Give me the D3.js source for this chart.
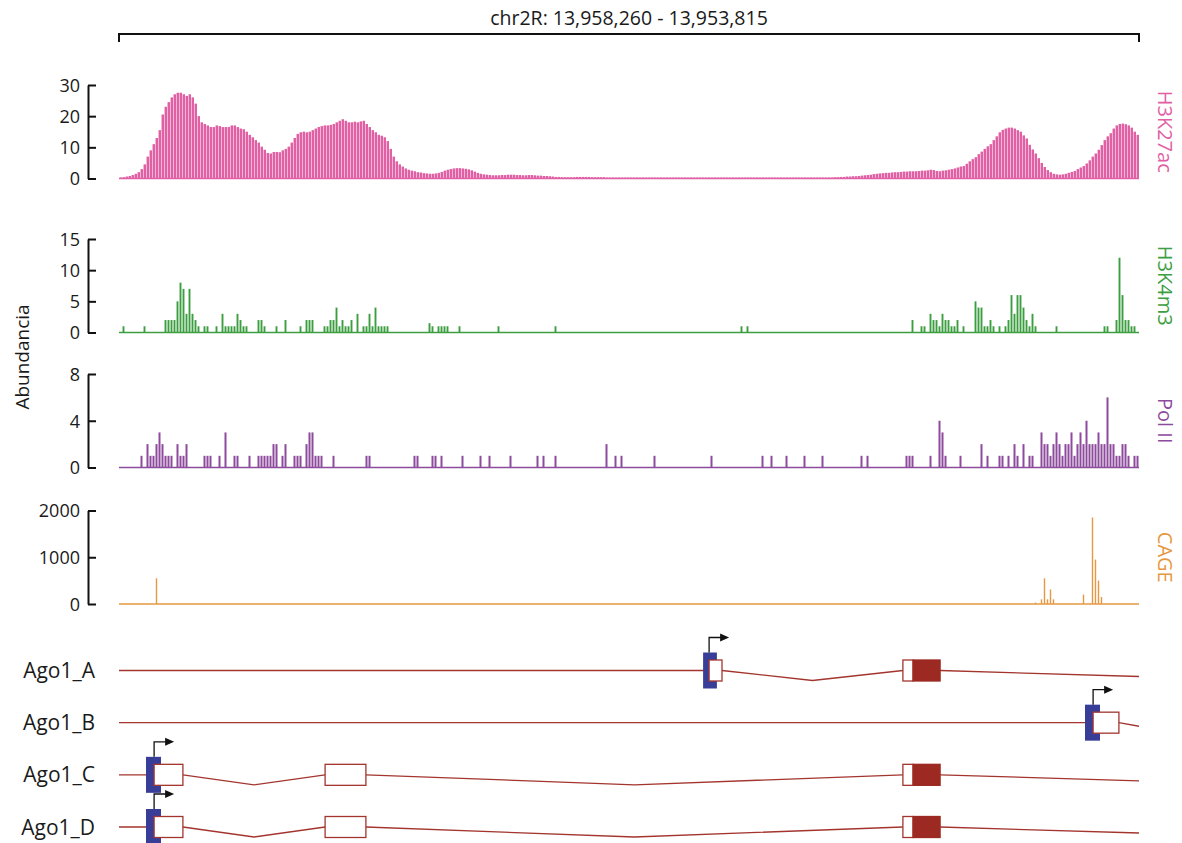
<!DOCTYPE html>
<html lang="es">
<head>
<meta charset="UTF-8">
<title>Ago1 locus</title>
<script src="https://d3js.org/d3.v7.min.js"></script>
<style>
  body { margin: 0; background: #fff; }
  svg { display: block; font-family: 'Open Sans', sans-serif; }
  .axis path, .axis line { stroke: #111; stroke-width: 2px; }
  .axis text { font-size: 18px; fill: #1a1a1a; font-family: 'Open Sans', sans-serif; }
</style>
</head>
<body>
<svg id="chart" width="1182" height="843"></svg>
<script>
// region shown, split in equal bins (left = 13,958,260)
const region = "chr2R: 13,958,260 - 13,953,815";
const nBins = 340;

// H3K27ac, one value per bin
const h3k27ac = [
  0.3,0.4,0.6,0.8,1.1,1.5,2,3,4.5,7,9,11,13,15.5,20.5,23,24.5,26,27,27.5,
  27.5,27,26.5,27,26,24,20,18,17.5,17,16.5,16.5,17,16.8,16.5,16.5,16.5,17,17,16.5,
  16,15.8,15,14,13.2,12.3,11.5,10.2,9.2,8.2,8,8.5,8.5,8.4,9,9.5,10.2,11.5,13,14.3,
  14.8,15,14.8,15,15.5,16,16.5,16.8,17,17,17.2,17.5,18,18.5,19,18.5,18,18,18.2,18,
  18.3,18.5,17.5,16.5,15.5,14.8,14,13.7,13.2,12,9.5,7,5.5,4.5,3.8,3.2,2.8,2.5,2.3,2,
  1.9,1.7,1.6,1.5,1.5,1.6,1.8,2.1,2.5,2.8,3,3.2,3.3,3.3,3.2,3.1,2.9,2.6,2.2,1.8,
  1.5,1.3,1.2,1.1,1,1,1,1.1,1.1,1.2,1.2,1.2,1.1,1.1,1,1,1.1,1.1,1,0.9,
  0.9,0.8,0.8,0.7,0.6,0.5,0.5,0.4,0.4,0.4,0.4,0.4,0.5,0.5,0.5,0.5,0.5,0.4,0.4,0.4,
  0.4,0.4,0.3,0.3,0.3,0.3,0.3,0.3,0.3,0.3,0.3,0.3,0.3,0.3,0.3,0.3,0.3,0.3,0.3,0.3,
  0.3,0.3,0.3,0.3,0.3,0.3,0.3,0.3,0.3,0.3,0.3,0.3,0.3,0.3,0.3,0.3,0.3,0.3,0.3,0.3,
  0.3,0.3,0.3,0.3,0.3,0.3,0.3,0.3,0.3,0.3,0.3,0.3,0.3,0.3,0.3,0.3,0.3,0.3,0.3,0.3,
  0.3,0.3,0.3,0.3,0.3,0.3,0.3,0.3,0.3,0.3,0.3,0.3,0.3,0.3,0.3,0.3,0.3,0.3,0.4,0.4,
  0.5,0.5,0.6,0.6,0.7,0.7,0.8,0.9,1,1.1,1.2,1.4,1.5,1.6,1.7,1.8,1.8,1.9,2,2,
  2.1,2.2,2.2,2.3,2.3,2.3,2.4,2.5,2.5,2.6,2.8,2.7,2.4,2.3,2.5,2.6,2.8,3,3.2,3.5,
  3.8,4,4.7,5.5,6.2,6.8,7.8,8.6,9.5,10.3,11,12.3,13.5,14.8,15.6,16,16.3,16.3,16,15.5,
  15,13.8,12.8,10.8,9.3,8,6.5,5,3.7,2.7,2,1.5,1.3,1.2,1.3,1.5,1.8,2.1,2.4,3,
  3.5,4,4.8,5.8,7,8,9.2,10.7,12.3,13.5,14.5,16,17,17.5,17.6,17.4,17,16.3,15,14
];

// sparse tracks: [bin, value]
const h3k4m3 = [
  [1,1],[8,1],[15,2],[16,2],[17,2],[18,2],[19,5],[20,8],[21,7],[22,3],[23,7],[24,3],[25,2],[26,1],
  [28,1],[29,1],[32,1],[34,3],[35,1],[36,1],[37,1],[38,1],[39,3],[40,2],[41,1],[42,1],[46,2],[47,2],
  [48,1],[52,1],[55,2],[60,1],[62,2],[63,2],[64,2],[68,1],[69,1],[70,2],[71,2],[72,4],[73,1],[74,2],
  [75,1],[76,1],[77,2],[79,3],[81,1],[82,1],[83,3],[84,1],[85,4],[86,1],[87,1],[88,1],[89,1],
  [103,1.5],[104,1],[106,1],[107,1],[108,1],[109,1],[113,1],[126,1],[145,1],[207,1],[209,1],
  [264,2],[267,1],[268,1],[270,3],[271,2],[272,2],[273,1],[274,3],[275,2],[276,2],[277,1],[278,1],
  [279,2],[281,1],[285,5],[286,4],[287,4],[288,1],[289,1],[290,2],[291,1],[293,1],[295,1],[296,2],
  [297,6],[298,3],[299,6],[300,6],[301,4],[302,2],[303,1],[304,3],[305,1],[312,1],[328,1],[329,1],
  [332,2],[333,12],[334,6],[335,2],[336,2],[337,1],[338,1]
];
const pol2 = [
  [7,1],[9,2],[10,1],[11,1],[12,2],[13,3],[14,2],[15,1],[16,1],[17,1],[19,2],[20,1],[21,1],[22,2],
  [28,1],[29,1],[30,1],[33,1],[35,3],[38,1],[39,1],[43,1],[46,1],[47,1],[48,1],[49,1],[50,1],[51,2],
  [52,2],[54,1],[55,2],[58,1],[59,1],[60,1],[62,2],[63,3],[64,3],[65,1],[66,1],[67,1],[71,1],[82,1],
  [83,1],[98,1],[99,1],[104,1],[105,1],[107,1],[114,1],[120,1],[123,1],[130,1],[139,1],[141,1],[145,1],
  [162,2],[165,1],[167,1],[178,1],[197,1],[214,1],[217,1],[222,1],[228,1],[234,1],[247,1],[249,1],
  [262,1],[263,1],[264,1],[270,1],[273,4],[274,3],[275,1],[280,1],[287,2],[289,1],[293,1],[294,1],
  [296,1],[298,2],[299,1],[301,2],[303,1],[304,1],[307,3],[308,2],[309,2],[310,1],[311,2],[312,3],
  [313,2],[314,1],[315,2],[316,2],[317,3],[318,1],[319,2],[320,3],[321,2],[322,4],[323,2],[324,2],
  [325,2],[326,3],[327,2],[328,2],[329,6],[330,2],[331,2],[332,1],[333,1],[334,2],[335,2],[336,1],
  [338,1],[339,1]
];
const cage = [
  [12,550],[305,30],[307,100],[308,550],[309,100],[310,310],[311,100],[321,200],[324,1850],
  [325,950],[326,500],[327,150]
];

// gene models, in bin units
const transcripts = ["Ago1_A", "Ago1_B", "Ago1_C", "Ago1_D"];
const tssBoxes = [[194.7, 199.3], [322, 327], [9, 14], [9, 14]];
const upstream = [[0, 196.7], [0, 324.7], [0, 11.7], [0, 11.7]];
const exons = [
  [[196.7, 201, "utr"], [261.3, 264.7, "utr"], [264.7, 273.7, "cds"]],
  [[324.7, 333.3, "utr"]],
  [[11.7, 21.3, "utr"], [68.7, 82.3, "utr"], [261.3, 264.7, "utr"], [264.7, 273.7, "cds"]],
  [[11.7, 21.3, "utr"], [68.7, 82.3, "utr"], [261.3, 264.7, "utr"], [264.7, 273.7, "cds"]]
];
const introns = [
  [[201, 261.3], [273.7, 494]],
  [[333.3, 371]],
  [[21.3, 68.7], [82.3, 261.3], [273.7, 494]],
  [[21.3, 68.7], [82.3, 261.3], [273.7, 494]]
];

const tracks = [
  {name: "H3K27ac", data: h3k27ac, max: 30, ticks: [0, 10, 20, 30], color: "#df60a4", light: "#f5c0da", top: 85, bottom: 178.5, dense: true},
  {name: "H3K4m3", data: h3k4m3, max: 15, ticks: [0, 5, 10, 15], color: "#3d9e41", top: 239, bottom: 332.5, barW: 1.9},
  {name: "Pol II", data: pol2, max: 8, ticks: [0, 4, 8], color: "#8d4b9d", top: 374, bottom: 467.5, barW: 2},
  {name: "CAGE", data: cage, max: 2000, ticks: [0, 1000, 2000], color: "#e69840", top: 510.5, bottom: 604, barW: 1.4}
];

const svg = d3.select("#chart");
const x = d3.scaleBand().domain(d3.range(nBins)).range([119, 1139]).paddingInner(0);
const xPos = d3.scaleLinear().domain([0, nBins]).range([119, 1139]);

// region bracket + title
svg.append("path")
  .attr("d", `M${xPos(0)},42V34H${xPos(nBins)}V42`)
  .attr("fill", "none").attr("stroke", "#111").attr("stroke-width", 2);
svg.append("text")
  .attr("x", (xPos(0) + xPos(nBins)) / 2).attr("y", 25)
  .attr("text-anchor", "middle").style("font-size", "19.5px").attr("fill", "#1a1a1a")
  .text(region);

tracks.forEach(t => {
  const y = d3.scaleLinear().domain([0, t.max]).range([t.bottom, t.top]);
  const g = svg.append("g");

  if (t.dense) {
    g.selectAll("rect.bg").data(t.data).join("rect")
      .attr("class", "bg")
      .attr("x", (d, i) => x(i)).attr("width", x.bandwidth())
      .attr("y", d => y(d)).attr("height", d => y(0) - y(d))
      .attr("fill", t.light);
    g.selectAll("rect.fg").data(t.data).join("rect")
      .attr("class", "fg")
      .attr("x", (d, i) => x(i) + 0.9).attr("width", x.bandwidth() - 0.9)
      .attr("y", d => y(d)).attr("height", d => y(0) - y(d))
      .attr("fill", t.color);
  } else {
    g.selectAll("rect").data(t.data).join("rect")
      .attr("x", d => x(d[0]) + (x.bandwidth() - t.barW) / 2).attr("width", t.barW)
      .attr("y", d => y(d[1])).attr("height", d => y(0) - y(d[1]))
      .attr("fill", t.color);
  }

  // baseline
  g.append("line")
    .attr("x1", xPos(0)).attr("x2", xPos(nBins))
    .attr("y1", y(0)).attr("y2", y(0))
    .attr("stroke", t.color).attr("stroke-width", 1.6);

  svg.append("g").attr("class", "axis")
    .attr("transform", "translate(88,0)")
    .call(d3.axisLeft(y).tickValues(t.ticks).tickFormat(d3.format("d"))
      .tickSizeInner(-8).tickSizeOuter(0).tickPadding(8))
    .call(a => a.selectAll("text").attr("dy", "0.36em"));

  svg.append("text")
    .attr("transform", `translate(1158,${(t.top + t.bottom) / 2}) rotate(90)`)
    .attr("text-anchor", "middle")
    .style("font-size", "20px").attr("fill", t.color)
    .text(t.name);
});

svg.append("text")
  .attr("transform", "translate(29,357) rotate(-90)")
  .attr("text-anchor", "middle").style("font-size", "19px").attr("fill", "#1a1a1a")
  .text("Abundancia");

// gene models
const row = d3.scalePoint().domain(transcripts).range([670.5, 827]);
const lineCol = "#a3352e";
svg.append("clipPath").attr("id", "genes")
  .append("rect").attr("x", xPos(0)).attr("y", 620).attr("width", xPos(nBins) - xPos(0)).attr("height", 230);
const genes = svg.append("g").attr("clip-path", "url(#genes)");

transcripts.forEach((name, k) => {
  const cy = row(name);
  const g = genes.append("g");

  svg.append("text")
    .attr("x", 95).attr("y", cy).attr("dy", "0.36em")
    .attr("text-anchor", "end").style("font-size", "21px").attr("fill", "#1a1a1a")
    .text(name);

  g.append("line")
    .attr("x1", xPos(upstream[k][0])).attr("x2", xPos(upstream[k][1]))
    .attr("y1", cy).attr("y2", cy)
    .attr("stroke", lineCol).attr("stroke-width", 1.3);

  introns[k].forEach(([s, e]) => {
    const mid = (s + e) / 2;
    g.append("path")
      .attr("d", `M${xPos(s)},${cy}L${xPos(mid)},${cy + 10}L${xPos(e)},${cy}`)
      .attr("fill", "none").attr("stroke", lineCol).attr("stroke-width", 1.3);
  });

  const [ts, te] = tssBoxes[k];
  g.append("rect")
    .attr("x", xPos(ts)).attr("width", xPos(te) - xPos(ts))
    .attr("y", cy - 18).attr("height", 36)
    .attr("fill", "#383e98");

  exons[k].forEach(([s, e, kind]) => {
    g.append("rect")
      .attr("x", xPos(s)).attr("width", xPos(e) - xPos(s))
      .attr("y", cy - 10.5).attr("height", 21)
      .attr("fill", kind === "cds" ? "#9c2a22" : "#fff")
      .attr("stroke", kind === "cds" ? "#9c2a22" : lineCol).attr("stroke-width", 1.3);
  });

  // transcription start arrow
  const ax = xPos(exons[k][0][0]);
  svg.append("path")
    .attr("d", `M${ax},${cy - 18}V${cy - 33}H${ax + 12}`)
    .attr("fill", "none").attr("stroke", "#111").attr("stroke-width", 1.3);
  svg.append("path")
    .attr("d", `M${ax + 11},${cy - 37}L${ax + 20},${cy - 33}L${ax + 11},${cy - 29}Z`)
    .attr("fill", "#111");
});
</script>
</body>
</html>
